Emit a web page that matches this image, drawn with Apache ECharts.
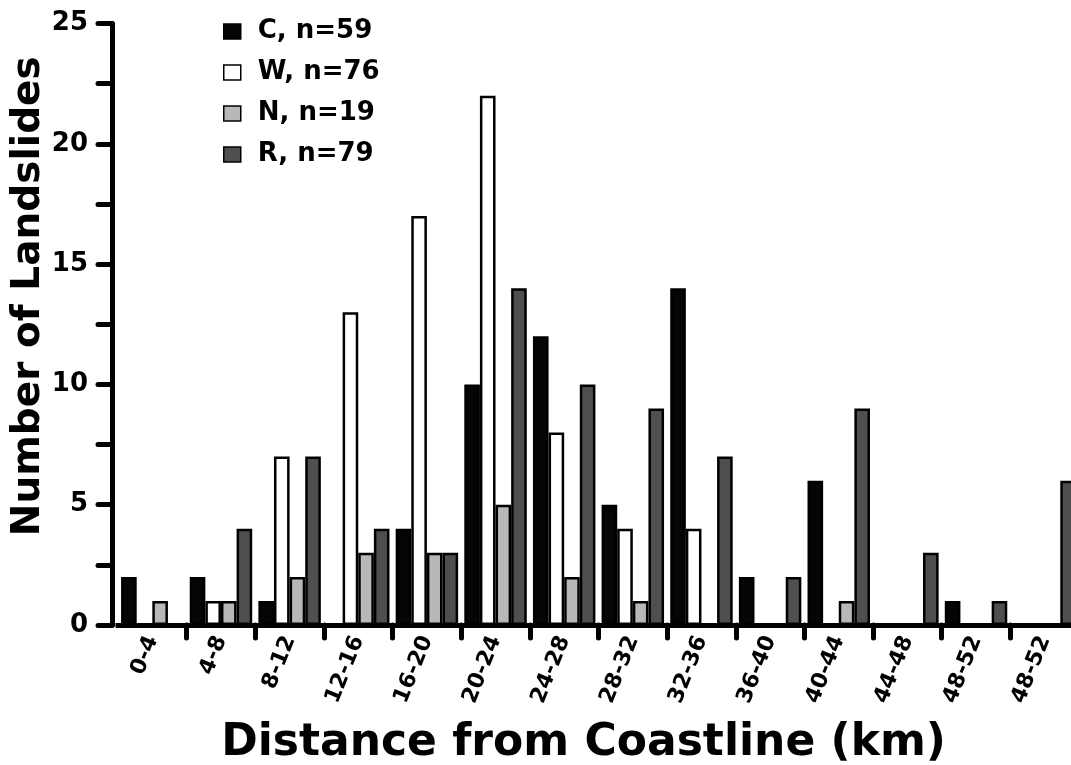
<!DOCTYPE html>
<html>
<head>
<meta charset="utf-8">
<script src="https://cdn.jsdelivr.net/npm/echarts@6/dist/echarts.min.js"></script>
<style>
  html, body { margin: 0; padding: 0; background: #fff; }
  #chart { width: 1071px; height: 765px; }
</style>
</head>
<body>
<div id="chart"></div>
<script>
// 距离分段（最后一个标签原图就是重复的 48-52）
const categories = ["0-4", "4-8", "8-12", "12-16", "16-20", "20-24", "24-28",
  "28-32", "32-36", "36-40", "40-44", "44-48", "48-52", "48-52"];

const valuesC = [2, 2, 1, 0, 4, 10, 12, 5, 14, 2, 6, 0, 1, 0];
const valuesW = [0, 1, 7, 13, 17, 22, 8, 4, 4, 0, 0, 0, 0, 0];
const valuesN = [1, 1, 2, 3, 3, 5, 2, 1, 0, 0, 1, 0, 0, 0];
const valuesR = [0, 4, 7, 4, 3, 14, 10, 9, 7, 2, 9, 3, 1, 6];

const seriesNames = ["C, n=59", "W, n=76", "N, n=19", "R, n=79"];
const seriesColors = ["#050505", "#ffffff", "#b8b8b8", "#4f4f4f"];

const yTicks = [0, 5, 10, 15, 20, 25];

const font = "DejaVu Sans";

function bar(name, data, color) {
  return {
    name,
    type: "bar",
    data,
    barGap: "0%",
    barCategoryGap: "9%",
    itemStyle: { color, borderColor: "#000", borderWidth: 2.5 },
  };
}

const chart = echarts.init(document.getElementById("chart"));
chart.setOption({
  animation: false,
  backgroundColor: "#fff",
  // 最后一组柱子被图片右边缘截掉一半，所以绘图区伸出画布
  grid: {
    left: 118, width: 961, top: 23.5, bottom: 140,
    containLabel: false, outerBoundsMode: "none",
  },
  legend: {
    orient: "vertical",
    left: 218,
    top: 12,
    itemWidth: 17,
    itemHeight: 15,
    itemGap: 12,
    icon: "rect",
    itemStyle: { borderColor: "#000", borderWidth: 1.5 },
    textStyle: {
      fontFamily: font,
      fontWeight: "bold",
      fontSize: 26,
      color: "#000",
      lineHeight: 29,
      padding: [0, 0, 0, 12],
    },
    data: seriesNames,
  },
  xAxis: {
    type: "category",
    data: categories,
    name: "Distance from Coastline (km)",
    nameLocation: "middle",
    nameGap: 97,
    nameMoveOverlap: false,
    nameTextStyle: {
      fontFamily: font,
      fontWeight: "bold",
      fontSize: 44,
      color: "#000",
      padding: [0, 30, 0, 0],
    },
    axisLine: { lineStyle: { color: "#000", width: 5, cap: "square" } },
    axisTick: {
      show: true,
      length: 13,
      interval: (i) => i > 0,
      lineStyle: { color: "#000", width: 5, cap: "round" },
    },
    axisLabel: {
      interval: 0,
      rotate: 68,
      margin: 12,
      fontFamily: font,
      fontWeight: "bold",
      fontSize: 22,
      color: "#000",
    },
    splitLine: { show: false },
  },
  yAxis: {
    type: "value",
    min: yTicks[0],
    max: yTicks[yTicks.length - 1],
    interval: 5,
    offset: 6,
    name: "Number of Landslides",
    nameLocation: "middle",
    nameGap: 64,
    nameMoveOverlap: false,
    nameTextStyle: {
      fontFamily: font,
      fontWeight: "bold",
      fontSize: 39,
      color: "#000",
      padding: [0, 0, 0, 56],
    },
    axisLine: { show: true, lineStyle: { color: "#000", width: 5 } },
    axisTick: { show: true, length: 14, lineStyle: { color: "#000", width: 5, cap: "round" } },
    minorTick: { show: true, splitNumber: 2, length: 14, lineStyle: { color: "#000", width: 5, cap: "round" } },
    axisLabel: {
      margin: 24,
      fontFamily: font,
      fontWeight: "bold",
      fontSize: 26,
      color: "#000",
    },
    splitLine: { show: false },
  },
  series: [
    bar(seriesNames[0], valuesC, seriesColors[0]),
    bar(seriesNames[1], valuesW, seriesColors[1]),
    bar(seriesNames[2], valuesN, seriesColors[2]),
    bar(seriesNames[3], valuesR, seriesColors[3]),
  ],
});
</script>
</body>
</html>
